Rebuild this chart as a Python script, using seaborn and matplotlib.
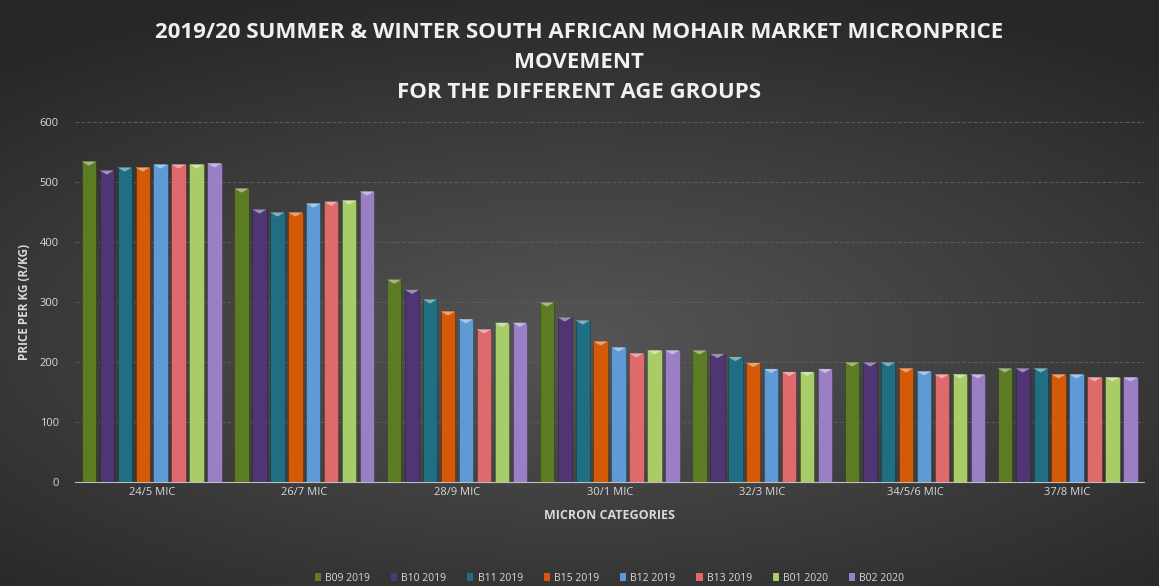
import numpy as np
import pandas as pd
import matplotlib.pyplot as plt
import seaborn as sns
from matplotlib.patches import Polygon

# chart values
categories = ['24/5 MIC', '26/7 MIC', '28/9 MIC', '30/1 MIC', '32/3 MIC', '34/5/6 MIC', '37/8 MIC']
sales = ['B09 2019', 'B10 2019', 'B11 2019', 'B15 2019', 'B12 2019', 'B13 2019', 'B01 2020', 'B02 2020']
b09_2019 = [535, 490, 338, 300, 220, 200, 190]
b10_2019 = [520, 455, 321, 275, 214, 200, 190]
b11_2019 = [525, 450, 305, 270, 209, 200, 190]
b15_2019 = [525, 450, 285, 235, 199, 190, 180]
b12_2019 = [530, 465, 272, 225, 189, 185, 180]
b13_2019 = [530, 468, 255, 215, 184, 180, 175]
b01_2020 = [530, 470, 266, 220, 184, 180, 175]
b02_2020 = [532, 485, 266, 220, 189, 180, 175]
colors = ['#5b7c22', '#4f3573', '#1f6e84', '#d45a07', '#5d9ad6', '#df6a6c', '#a8cc68', '#9a7fc4']

series = [b09_2019, b10_2019, b11_2019, b15_2019, b12_2019, b13_2019, b01_2020, b02_2020]
rows = []
for name, vals in zip(sales, series):
    for cat, v in zip(categories, vals):
        rows.append({'micron': cat, 'sale': name, 'price': v})
df = pd.DataFrame(rows)

text_col = '#d9d9d9'
plt.rcParams['font.family'] = ['Open Sans', 'DejaVu Sans']

fig = plt.figure(figsize=(11.59, 5.86), dpi=100)

# dark radial background
bg = fig.add_axes([0, 0, 1, 1], zorder=-10)
yy, xx = np.mgrid[-1:1:300j, -1:1:600j]
r = np.sqrt((xx * 0.9) ** 2 + ((yy - 0.15) * 1.1) ** 2)
bg.imshow(np.clip(r, 0, 1.4), cmap=sns.blend_palette(['#555555', '#3e3e3e', '#262626'], as_cmap=True),
          aspect='auto', extent=[0, 1, 0, 1])
bg.axis('off')

ax = fig.add_axes([0.065, 0.177, 0.922, 0.614])
ax.set_facecolor('none')
sns.barplot(data=df, x='micron', y='price', hue='sale', palette=colors, width=0.94, gap=0.2,
            ax=ax, saturation=1, legend=True, zorder=3)

# small bevel on top of each bar
for p in ax.patches:
    x0, w, h = p.get_x(), p.get_width(), p.get_height()
    if h <= 0:
        continue
    fc = np.array(p.get_facecolor()[:3])
    light = fc + (1 - fc) * 0.45
    ax.add_patch(Polygon([[x0, h], [x0 + w, h], [x0 + w * 0.5, h - 7]], closed=True,
                         facecolor=light, edgecolor='none', zorder=4))
    p.set_edgecolor((0, 0, 0, 0.25))
    p.set_linewidth(0.6)

ax.set_ylim(0, 600)
ax.set_xlim(-0.5, 6.5)
ax.set_yticks(range(0, 601, 100))
ax.grid(axis='y', color='#5c5c5c', linestyle=(0, (4, 2)), linewidth=0.7, zorder=0)
for s in ['top', 'right', 'left']:
    ax.spines[s].set_visible(False)
ax.spines['bottom'].set_color('#bfbfbf')
ax.spines['bottom'].set_linestyle((0, (2, 1)))
ax.tick_params(colors=text_col, labelsize=8, length=0)
ax.tick_params(axis='y', pad=12)
ax.set_xlabel('MICRON CATEGORIES', color=text_col, fontsize=9, fontweight='bold', labelpad=8)
ax.set_ylabel('PRICE PER KG (R/KG)', color=text_col, fontsize=8.5, fontweight='bold', labelpad=6)

handles, labels = ax.get_legend_handles_labels()
ax.legend(handles, labels, loc='upper center', bbox_to_anchor=(0.5, -0.225), ncol=8, frameon=False,
          fontsize=7.5, labelcolor=text_col, handlelength=0.6, handleheight=0.8, columnspacing=2.0,
          handletextpad=0.4)

fig.text(0.5, 0.962, '2019/20 SUMMER & WINTER SOUTH AFRICAN MOHAIR MARKET MICRONPRICE\nMOVEMENT\nFOR THE DIFFERENT AGE GROUPS',
         ha='center', va='top', color='#f0f0f0', fontsize=16, fontweight='bold', linespacing=1.55)

fig.savefig('out.png', dpi=100)
